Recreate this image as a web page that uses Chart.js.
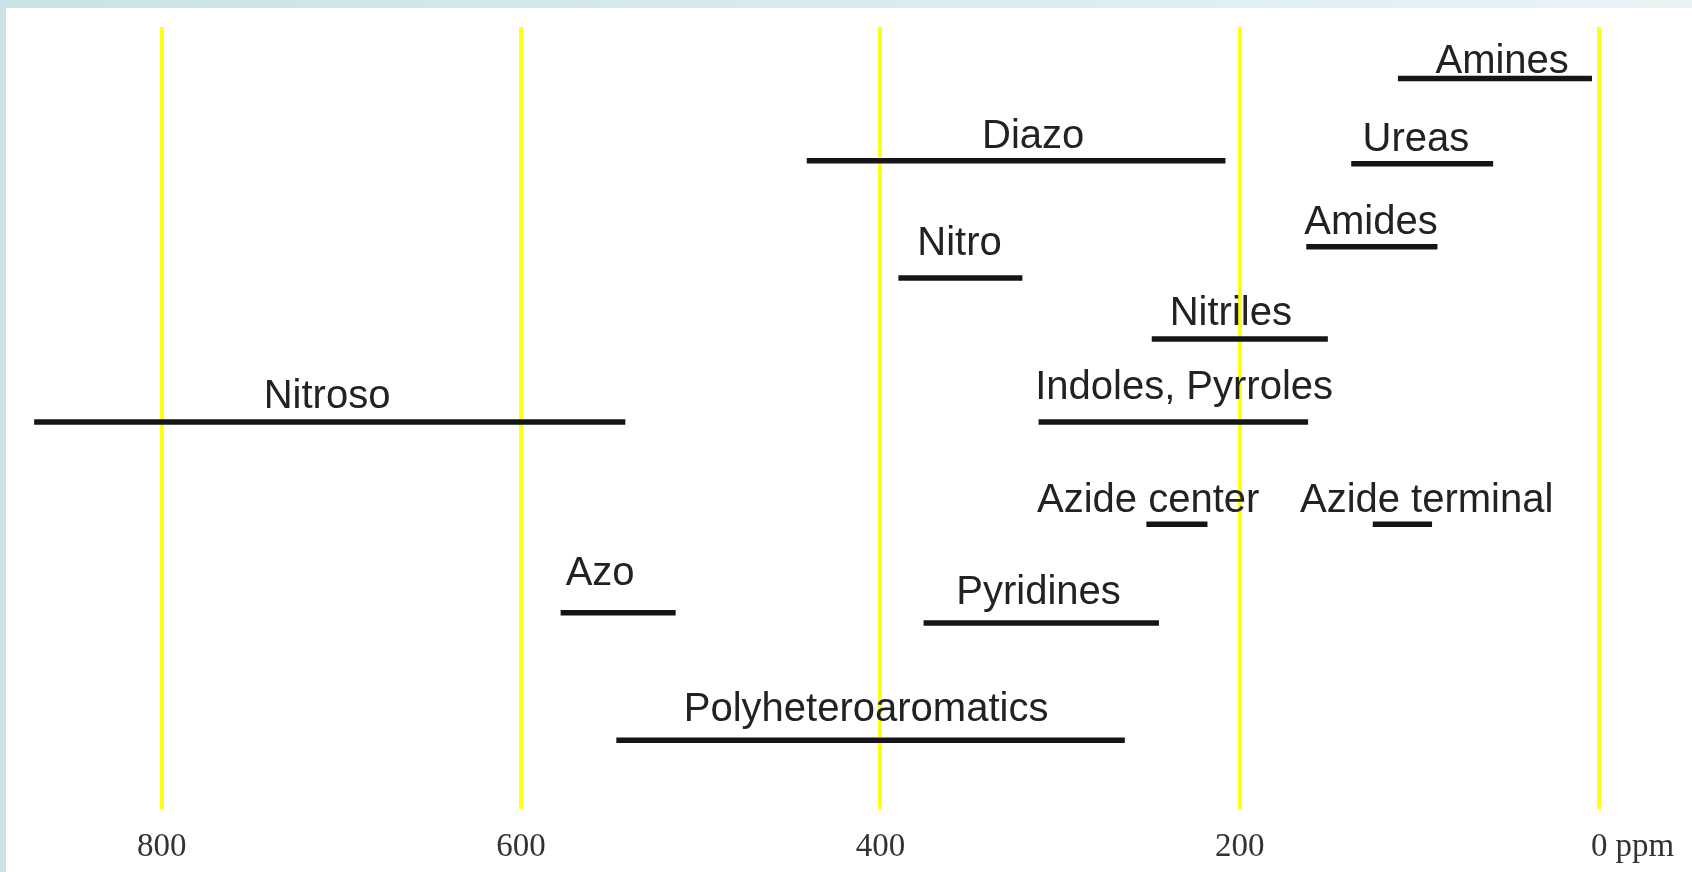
<!DOCTYPE html>
<html>
<head>
<meta charset="utf-8">
<script src="https://cdn.jsdelivr.net/npm/chart.js@4.4.1/dist/chart.umd.min.js"></script>
<style>
  html, body { margin: 0; padding: 0; }
  body {
    width: 1692px; height: 872px; overflow: hidden; position: relative;
    background: linear-gradient(90deg, #c9e3e6 0%, #e9f4f5 100%);
  }
  #paper { position: absolute; left: 6px; top: 8px; right: 0; bottom: 0; background: #fff; }
  #chart { position: absolute; left: 0; top: 0; }
</style>
</head>
<body>
<div id="paper"></div>
<canvas id="chart" width="1692" height="872"></canvas>
<script>
// ===== Data: 15N chemical shift ranges (ppm) =====
const groups = ['Amines', 'Diazo', 'Ureas', 'Amides', 'Nitro', 'Nitriles', 'Indoles, Pyrroles',
  'Nitroso', 'Azide center', 'Azide terminal', 'Azo', 'Pyridines', 'Polyheteroaromatics'];
const ppmFrom = [112, 441, 138, 163, 390, 249, 312, 871, 252, 126, 578, 376, 547];
const ppmTo = [4, 208, 59, 90, 321, 151, 162, 542, 218, 93, 514, 245, 264];
// row of each bar (0 = top, 100 = bottom of plot)
const rowLevel = [6.6, 17.1, 17.5, 28.1, 32.1, 39.9, 50.5, 50.5, 63.6, 63.6, 74.9, 76.2, 91.2];
// where each name sits (ppm, row)
const labelPpm = [54, 315, 102, 127, 356, 205, 231, 708, 251, 96, 556, 312, 408];
const labelRow = [4.5, 14.1, 14.5, 25.1, 27.7, 36.7, 46.2, 47.3, 60.6, 60.6, 70.0, 72.4, 87.3];

const tickValues = [800, 600, 400, 200, 0];
const unitText = 'ppm';

const datasets = groups.map((name, i) => ({
  label: name,
  data: [{ x: ppmFrom[i], y: rowLevel[i] }, { x: ppmTo[i], y: rowLevel[i] }],
  showLine: true,
  borderColor: '#151515',
  borderWidth: 5.5,
  pointRadius: 0,
}));

// ===== Names above bars + unit after the 0 tick =====
const groupLabels = {
  id: 'groupLabels',
  afterDatasetsDraw(chart) {
    const { ctx, chartArea, scales: { x, y } } = chart;
    ctx.save();
    ctx.font = '40px "Liberation Sans", Arial, sans-serif';
    ctx.fillStyle = '#222';
    ctx.textAlign = 'center';
    ctx.textBaseline = 'middle';
    groups.forEach((name, i) => {
      ctx.fillText(name, x.getPixelForValue(labelPpm[i]), y.getPixelForValue(labelRow[i]));
    });

    ctx.font = '33px "Liberation Serif", serif';
    ctx.fillStyle = '#333';
    ctx.textAlign = 'left';
    const zx = x.getPixelForValue(0) + ctx.measureText('0').width / 2 + 8;
    ctx.fillText(unitText, zx, chartArea.bottom + 19 + 19);
    ctx.restore();
  },
};

new Chart(document.getElementById('chart'), {
  type: 'scatter',
  data: { datasets },
  options: {
    responsive: false,
    animation: false,
    layout: { padding: { left: 18, right: 3, top: 27, bottom: 0 } },
    plugins: { legend: { display: false }, tooltip: { enabled: false } },
    scales: {
      x: {
        type: 'linear',
        reverse: true,
        min: -50,
        max: 880,
        afterBuildTicks: (axis) => {
          axis.ticks = tickValues.map((v) => ({ value: v }));
        },
        afterFit: (axis) => {
          axis.height = 63;
        },
        grid: { color: 'rgba(255,255,0,0.9)', lineWidth: 4, drawTicks: false },
        border: { display: false },
        ticks: {
          padding: 19,
          color: '#333',
          font: { family: '"Liberation Serif", serif', size: 33 },
          callback: (v) => String(v),
        },
      },
      y: { type: 'linear', display: false, min: 0, max: 100, reverse: true },
    },
  },
  plugins: [groupLabels],
});
</script>
</body>
</html>
